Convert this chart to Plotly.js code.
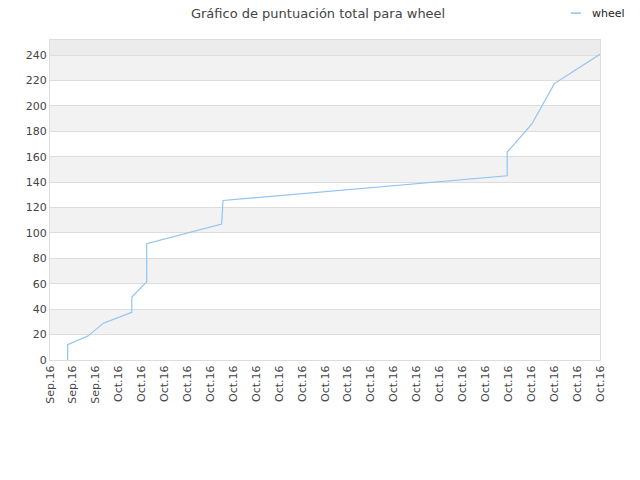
<!DOCTYPE html>
<html>
<head>
<meta charset="utf-8">
<script src="https://cdn.plot.ly/plotly-3.0.1.min.js"></script>
<style>html,body{margin:0;padding:0;background:#fff;}#chart{width:640px;height:480px;}</style>
</head>
<body>
<div id="chart"></div>
<script>
// x positions in tick-slot units (0 = first tick label, 24 = last)
var xPos = [0.77, 0.77, 1.67, 2.33, 3.57, 3.57, 4.22, 4.22, 7.49, 7.52, 7.55, 19.95, 19.95, 21.02, 22.01, 24];
var scores = [0, 12, 19, 29, 37.5, 49.5, 61.5, 91.5, 107, 117, 125.5, 145, 163.5, 185.5, 217.5, 240.5];
var tickLabels = ["Sep.16","Sep.16","Sep.16","Oct.16","Oct.16","Oct.16","Oct.16","Oct.16","Oct.16","Oct.16",
  "Oct.16","Oct.16","Oct.16","Oct.16","Oct.16","Oct.16","Oct.16","Oct.16","Oct.16","Oct.16",
  "Oct.16","Oct.16","Oct.16","Oct.16","Oct.16"];
var yTicks = [0,20,40,60,80,100,120,140,160,180,200,220,240];
var seriesName = "wheel";
var titleText = "Gráfico de puntuación total para wheel";

var tickVals = tickLabels.map(function(_, i){ return i; });
var lineColor = '#90c4f2';

var shapes = [];
for (var i = 0; i < yTicks.length - 1; i++) {
  if (i % 2 === 1) {
    shapes.push({type:'rect', xref:'paper', yref:'y', x0:0, x1:1, y0:yTicks[i], y1:yTicks[i+1],
      fillcolor:'#f2f2f2', line:{width:0}, layer:'below'});
  }
}
shapes.push({type:'rect', xref:'paper', yref:'y', x0:0, x1:1, y0:yTicks[yTicks.length-1], y1:251.8,
  fillcolor:'#ececec', line:{width:0}, layer:'below'});
// compact legend sample
shapes.push({type:'line', xref:'paper', yref:'paper', x0:0.947, x1:0.9655, y0:1.084, y1:1.084,
  line:{color:lineColor, width:1.5}});

var trace = {
  x: xPos, y: scores, type:'scatter', mode:'lines', name: seriesName,
  line:{color:lineColor, width:1.2}
};

var layout = {
  width:640, height:480,
  margin:{l:50, r:40, t:40, b:120, autoexpand:false},
  paper_bgcolor:'#fff', plot_bgcolor:'#fff',
  font:{family:'DejaVu Sans, sans-serif', size:11, color:'#444'},
  title:{text:titleText, x:0.497, xanchor:'center', xref:'container', yref:'container', y:1-13/480, yanchor:'middle',
    font:{size:13, color:'#444'}},
  showlegend:false,
  annotations:[{text:seriesName, xref:'paper', yref:'paper', x:(590-50)/550, y:1.084, xanchor:'left', yanchor:'middle',
    showarrow:false, font:{size:11, color:'#222'}}],
  xaxis:{range:[0,24], tickmode:'array', tickvals:tickVals, ticktext:tickLabels, tickangle:-90,
    showgrid:false, zeroline:false, showline:true, linecolor:'#ddd', mirror:true, ticks:'', 
    tickfont:{size:11, color:'#444'}},
  yaxis:{range:[0,251.8], tickmode:'array', tickvals:yTicks, showgrid:true, gridcolor:'#dddddd',
    zeroline:false, showline:true, linecolor:'#ddd', mirror:true, ticks:'', tickfont:{size:11, color:'#444'}},
  shapes: shapes
};

Plotly.newPlot('chart', [trace], layout, {displayModeBar:false, staticPlot:true});
</script>
</body>
</html>
